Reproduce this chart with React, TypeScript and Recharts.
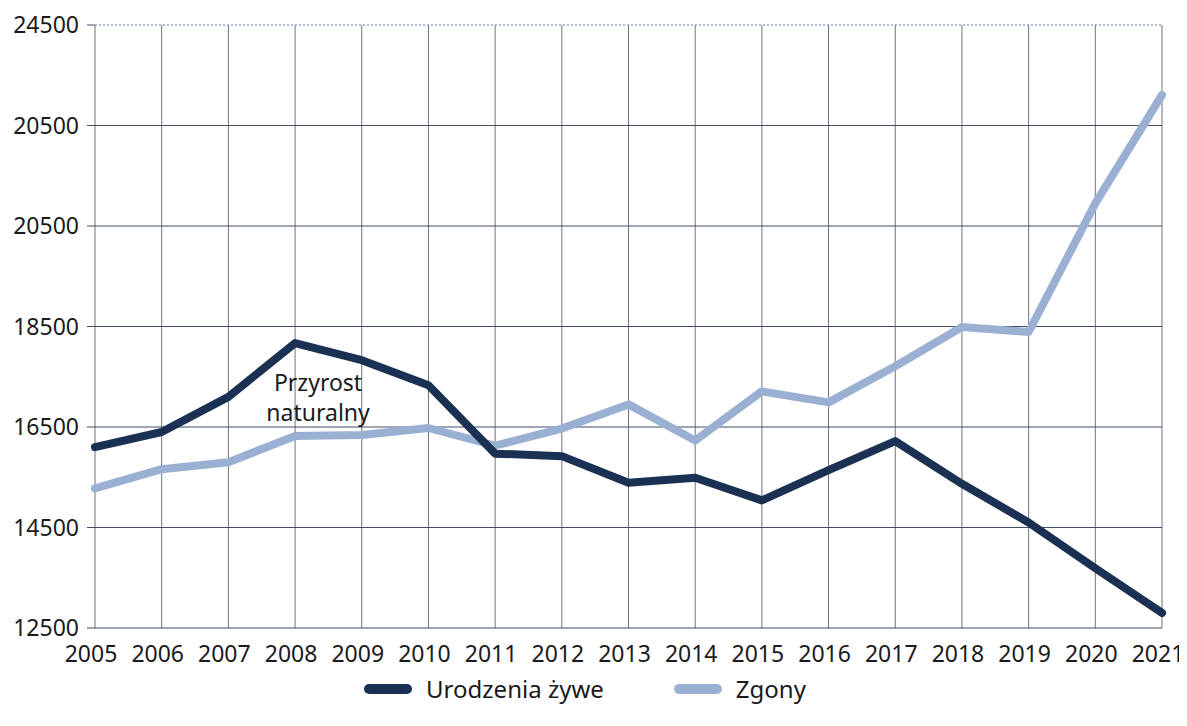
import { LineChart, Line, XAxis, YAxis, CartesianGrid, Legend, ReferenceLine, ReferenceDot } from 'recharts';

const years = ['2005', '2006', '2007', '2008', '2009', '2010', '2011', '2012', '2013', '2014', '2015', '2016', '2017', '2018', '2019', '2020', '2021'];
const births = [16100, 16400, 17100, 18170, 17830, 17330, 15970, 15920, 15390, 15490, 15040, 15640, 16220, 15370, 14600, 13690, 12800];
const deaths = [15280, 15660, 15800, 16320, 16340, 16480, 16130, 16470, 16950, 16230, 17210, 16990, 17710, 18490, 18390, 20950, 23110];
const yTicks = [12500, 14500, 16500, 18500, 20500, 22500, 24500];
// labels as printed in the source (the 22500 line is labelled 20500 there)
const yTickLabels = ['12500', '14500', '16500', '18500', '20500', '20500', '24500'];

const BIRTHS_NAME = 'Urodzenia żywe';
const DEATHS_NAME = 'Zgony';
const DARK = '#1b3153';
const LIGHT = '#9ab0d2';
const FONT = '"Noto Sans", sans-serif';

const data = years.map((year, i) => ({ year, births: births[i], deaths: deaths[i] }));

const YTick = (props: any) => {
  const { x, y, payload } = props;
  const idx = yTicks.indexOf(payload.value);
  return (
    <text x={x} y={y} dy="0.36em" textAnchor="end" fontSize={23} fill="#1a1a1a" fontFamily={FONT}>
      {yTickLabels[idx]}
    </text>
  );
};

const XTick = (props: any) => {
  const { x, y, payload } = props;
  return (
    <text x={x - 4} y={y} dy="1.15em" textAnchor="middle" fontSize={23} fill="#1a1a1a" fontFamily={FONT}>
      {payload.value}
    </text>
  );
};

const LegendContent = () => (
  <div style={{ display: 'flex', justifyContent: 'center', alignItems: 'center', fontFamily: FONT, fontSize: 24, color: '#1a1a1a', paddingTop: 2 }}>
    <span style={{ display: 'inline-block', width: 48, height: 10, borderRadius: 5, background: DARK, marginRight: 14 }} />
    <span style={{ marginRight: 70 }}>{BIRTHS_NAME}</span>
    <span style={{ display: 'inline-block', width: 48, height: 10, borderRadius: 5, background: LIGHT, marginRight: 14 }} />
    <span>{DEATHS_NAME}</span>
  </div>
);

const AnnotationLabel = (props: any) => {
  const { viewBox } = props;
  const cx = viewBox.x + 23;
  const cy = viewBox.y;
  return (
    <text x={cx} textAnchor="middle" fontSize={23} fill="#1a1a1a" fontFamily={FONT}>
      <tspan x={cx} y={cy - 14} dy="0.36em">Przyrost</tspan>
      <tspan x={cx} y={cy + 16} dy="0.36em">naturalny</tspan>
    </text>
  );
};

export default function App() {
  return (
    <div style={{ width: 1179, height: 710, background: '#fff' }}>
      <LineChart width={1179} height={710} data={data} margin={{ top: 17, right: 25, left: 0, bottom: 0 }}>
        <CartesianGrid horizontal={false} vertical stroke="#6e737c" strokeWidth={1} />
        {yTicks.map((t) => (
          <ReferenceLine
            key={t}
            y={t}
            stroke={t === 24500 ? '#5d7fa6' : '#3f4d66'}
            strokeWidth={1}
            strokeDasharray={t === 24500 ? '2 2' : undefined}
          />
        ))}
        <XAxis
          dataKey="year"
          interval={0}
          tickLine={false}
          axisLine={false}
          tick={<XTick />}
          height={42}
        />
        <YAxis
          type="number"
          domain={[12500, 24500]}
          ticks={yTicks}
          width={87}
          axisLine={false}
          tickLine={{ stroke: '#3f4d66' }}
          tickSize={8}
          tickMargin={8}
          tick={<YTick />}
        />
        <Legend verticalAlign="bottom" height={48} content={<LegendContent />} />
        <ReferenceDot x="2008" y={17100} r={0} fill="none" stroke="none" label={<AnnotationLabel />} />
        <Line
          type="linear"
          dataKey="deaths"
          name={DEATHS_NAME}
          stroke={LIGHT}
          strokeWidth={8}
          dot={false}
          strokeLinejoin="round"
          strokeLinecap="round"
          isAnimationActive={false}
        />
        <Line
          type="linear"
          dataKey="births"
          name={BIRTHS_NAME}
          stroke={DARK}
          strokeWidth={8}
          dot={false}
          strokeLinejoin="round"
          strokeLinecap="round"
          isAnimationActive={false}
        />
      </LineChart>
    </div>
  );
}
